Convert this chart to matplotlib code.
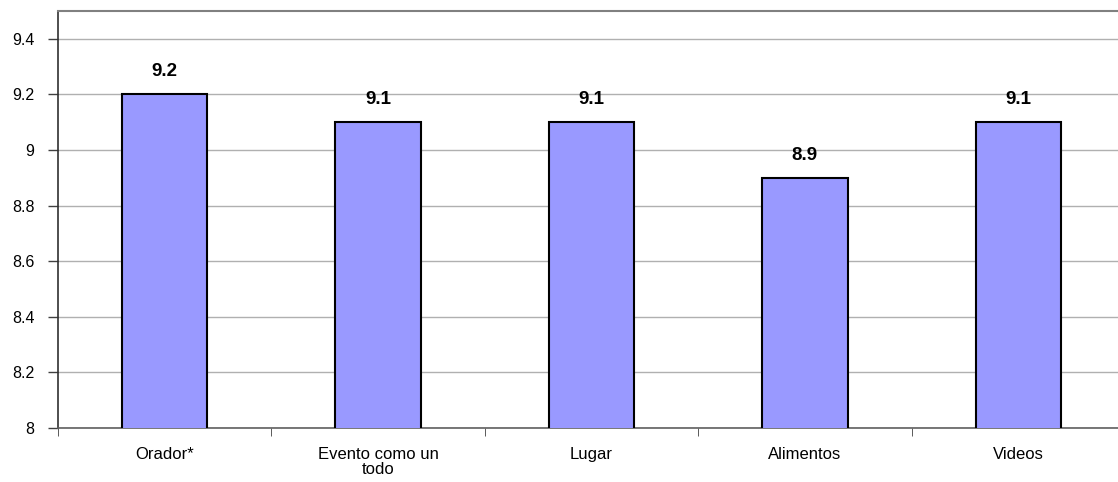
import numpy as np
import matplotlib
matplotlib.use('Agg')
import matplotlib.pyplot as plt

# chart data
categories = ['Orador*', 'Evento como un\ntodo', 'Lugar', 'Alimentos', 'Videos']
scores = [9.2, 9.1, 9.1, 8.9, 9.1]
value_labels = ['9.2', '9.1', '9.1', '8.9', '9.1']
y_ticks = [8, 8.2, 8.4, 8.6, 8.8, 9, 9.2, 9.4]
y_tick_labels = ['8', '8.2', '8.4', '8.6', '8.8', '9', '9.2', '9.4']

plt.rcParams['font.family'] = ['Liberation Sans', 'DejaVu Sans']

fig = plt.figure(figsize=(11.18, 4.82), dpi=100)
ax = fig.add_axes([58 / 1118, 54 / 482, 1067 / 1118, 417 / 482])

x = np.arange(len(categories))
ax.bar(x, scores, width=0.4, bottom=0, color='#9999FF', edgecolor='black',
       linewidth=1.5, zorder=3)

for xi, v, lab in zip(x, scores, value_labels):
    ax.text(xi, v + 0.05, lab, ha='center', va='bottom', fontsize=13.5,
            fontweight='bold', color='black')

ax.set_xlim(-0.5, len(categories) - 0.5)
ax.set_ylim(8, 9.5)
ax.set_yticks(y_ticks)
ax.set_yticklabels(y_tick_labels, fontsize=11.5)
ax.yaxis.grid(True, color='#b0b0b0', linewidth=1, zorder=0)
ax.set_axisbelow(True)

# category names centred under bars, ticks on the boundaries
ax.set_xticks(x)
ax.set_xticklabels(categories, fontsize=12, linespacing=0.95)
ax.tick_params(axis='x', length=0, pad=14)
ax.set_xticks(np.arange(len(categories) + 1) - 0.5, minor=True)
ax.tick_params(axis='x', which='minor', length=6, color='#404040', direction='out')
ax.tick_params(axis='y', length=7, color='#404040', width=1, pad=10)

ax.spines['left'].set_color('#303030')
ax.spines['left'].set_linewidth(1.2)
ax.spines['bottom'].set_color('#606060')
ax.spines['bottom'].set_linewidth(1.2)
ax.spines['top'].set_color('#808080')
ax.spines['top'].set_linewidth(1.5)
ax.spines['right'].set_visible(False)

fig.savefig('out.png', dpi=100)
